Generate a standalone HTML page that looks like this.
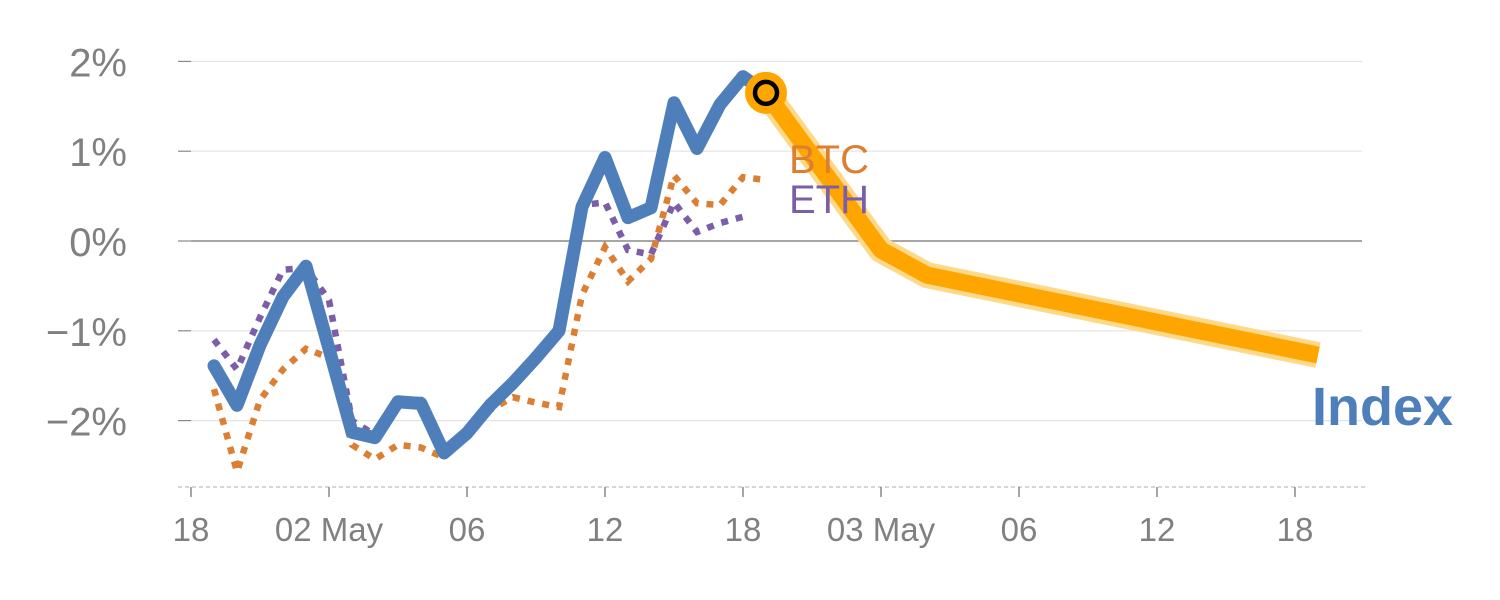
<!DOCTYPE html>
<html><head><meta charset="utf-8"><style>
html,body{margin:0;padding:0;background:#fff;}
svg{display:block;font-family:"Liberation Sans",sans-serif;}
</style></head><body>
<svg id="chart" width="1500" height="600" viewBox="0 0 1500 600" xmlns="http://www.w3.org/2000/svg">
<g id="grid"></g>
<g id="yaxis"></g>
<g id="xaxis"></g>
<g id="series"></g>
<text x="789" y="173" font-size="40" fill="#dd7f33">BTC</text>
<text x="789" y="213" font-size="40" fill="#7b5ea7">ETH</text>
<text x="1312" y="425" font-size="54" font-weight="bold" fill="#4e7fbb">Index</text>
</svg>
<script>
const yTicks = [2, 1, 0, -1, -2];
const yTickLabels = ["2%", "1%", "0%", "\u22121%", "\u22122%"];
const xTickPos = [0, 6, 12, 18, 24, 30, 36, 42, 48];
const xTickLabels = ["18", "02 May", "06", "12", "18", "03 May", "06", "12", "18"];
const indexVals = [-1.39,-1.83,-1.16,-0.62,-0.28,-1.2,-2.13,-2.19,-1.79,-1.81,-2.36,-2.14,-1.83,-1.58,-1.30,-1.0,0.38,0.93,0.26,0.37,1.54,1.03,1.52,1.83,1.65];
const btcVals = [-1.65,-2.57,-1.77,-1.43,-1.2,-1.3,-2.27,-2.43,-2.27,-2.3,-2.41,-2.12,-1.88,-1.74,-1.8,-1.85,-0.6,-0.07,-0.45,-0.2,0.73,0.42,0.4,0.71,0.68];
const ethVals = [-1.1,-1.43,-0.85,-0.32,-0.3,-0.66,-2.0,-2.16,-1.77,-1.77,-2.3,-2.14,-1.83,-1.58,-1.30,-1.0,0.4,0.43,-0.1,-0.15,0.43,0.1,0.2,0.27];
const forecastX = [25, 30, 32, 49];
const forecastVals = [1.65, -0.1, -0.38, -1.27];

const NS = "http://www.w3.org/2000/svg";
const X = i => 191 + 23 * i;
const Y = v => 241 - 89.8 * v;
function mk(tag, attrs, parent) {
  const e = document.createElementNS(NS, tag);
  for (const k in attrs) e.setAttribute(k, attrs[k]);
  parent.appendChild(e);
  return e;
}
const grid = document.getElementById('grid');
const yaxis = document.getElementById('yaxis');
const xaxis = document.getElementById('xaxis');
const series = document.getElementById('series');

yTicks.forEach((v, i) => {
  const g = mk('line', {x1: 191, x2: 1362, y1: Y(v), y2: Y(v), stroke: v === 0 ? '#888' : '#e3e3e3', 'stroke-width': v === 0 ? 1.5 : 1.2}, grid);
  
  
  const t = mk('line', {x1: 178, x2: 191, y1: Y(v), y2: Y(v), stroke: '#888', 'stroke-width': 1.2}, yaxis);
  
  
  const l = mk('text', {x: 127, y: Y(v) + 15, 'font-size': 40, fill: '#808080', 'text-anchor': 'end'}, yaxis);
  l.textContent = yTickLabels[i];
  
  
});
const base = mk('line', {x1: 178, x2: 1365, y1: 487, y2: 487, stroke: '#d6d6d6', 'stroke-width': 2, 'stroke-dasharray': '4 3'}, xaxis);


xTickPos.forEach((p, i) => {
  const t = mk('line', {x1: X(p), x2: X(p), y1: 487, y2: 497, stroke: '#888', 'stroke-width': 1.5}, xaxis);
  
  
  const l = mk('text', {x: X(p), y: 541, 'font-size': 33, fill: '#808080', 'text-anchor': 'middle'}, xaxis);
  l.textContent = xTickLabels[i];
  
  
});
const pts = (vals, off, xs) => vals.map((v, i) => X(xs ? xs[i] : i + off) + ',' + Y(v)).join(' ');

const btc = mk('polyline', {points: pts(btcVals, 1), fill: 'none', stroke: '#dd7f33', 'stroke-width': 6.5, 'stroke-dasharray': '7 8'}, series);


const eth = mk('polyline', {points: pts(ethVals, 1), fill: 'none', stroke: '#7b5ea7', 'stroke-width': 6.5, 'stroke-dasharray': '7 8'}, series);


const idx = mk('polyline', {points: pts(indexVals, 1), fill: 'none', stroke: '#4e7fbb', 'stroke-width': 13, 'stroke-linejoin': 'round', 'stroke-linecap': 'round'}, series);


const glow = mk('polyline', {points: pts(forecastVals, 0, forecastX), fill: 'none', stroke: '#ffd98a', 'stroke-width': 26, 'stroke-linejoin': 'round'}, series);


const fc = mk('polyline', {points: pts(forecastVals, 0, forecastX), fill: 'none', stroke: '#ffa500', 'stroke-width': 17, 'stroke-linejoin': 'round'}, series);


const c1 = mk('circle', {cx: X(forecastX[0]), cy: Y(forecastVals[0]), r: 21, fill: '#ffa500'}, series);


const c2 = mk('circle', {cx: X(forecastX[0]), cy: Y(forecastVals[0]), r: 11, fill: '#ffa500', stroke: '#000', 'stroke-width': 4.5}, series);


</script>
</body></html>
